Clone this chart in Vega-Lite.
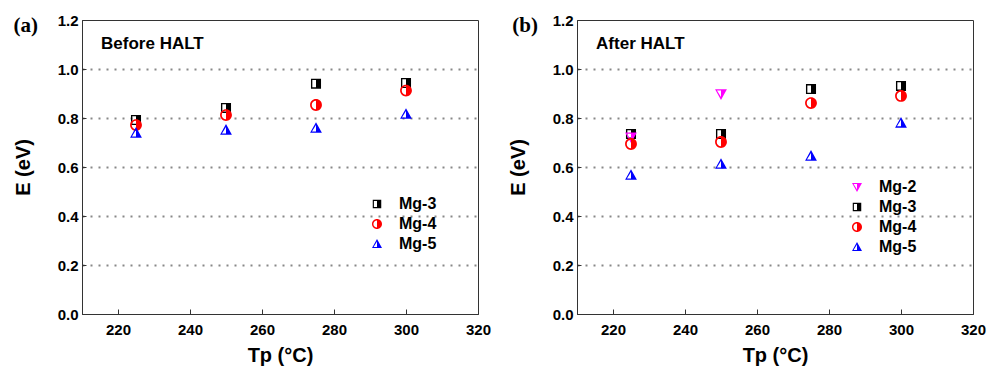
{
  "$schema": "https://vega.github.io/schema/vega-lite/v6.json",
  "background": "white",
  "padding": {"left": 12, "top": 12, "right": 5, "bottom": 5},
  "datasets": {
    "a": [
      {"T": 225, "E": 0.792, "s": "Mg-3"}, {"T": 250, "E": 0.841, "s": "Mg-3"}, {"T": 275, "E": 0.94, "s": "Mg-3"}, {"T": 300, "E": 0.943, "s": "Mg-3"},
      {"T": 225, "E": 0.771, "s": "Mg-4"}, {"T": 250, "E": 0.812, "s": "Mg-4"}, {"T": 275, "E": 0.853, "s": "Mg-4"}, {"T": 300, "E": 0.912, "s": "Mg-4"},
      {"T": 225, "E": 0.739, "s": "Mg-5"}, {"T": 250, "E": 0.751, "s": "Mg-5"}, {"T": 275, "E": 0.759, "s": "Mg-5"}, {"T": 300, "E": 0.816, "s": "Mg-5"}
    ],
    "b": [
      {"T": 225, "E": 0.735, "s": "Mg-3"}, {"T": 250, "E": 0.735, "s": "Mg-3"}, {"T": 275, "E": 0.918, "s": "Mg-3"}, {"T": 300, "E": 0.931, "s": "Mg-3"},
      {"T": 225, "E": 0.722, "s": "Mg-2"}, {"T": 250, "E": 0.898, "s": "Mg-2"},
      {"T": 225, "E": 0.694, "s": "Mg-4"}, {"T": 250, "E": 0.702, "s": "Mg-4"}, {"T": 275, "E": 0.861, "s": "Mg-4"}, {"T": 300, "E": 0.89, "s": "Mg-4"},
      {"T": 225, "E": 0.567, "s": "Mg-5"}, {"T": 250, "E": 0.612, "s": "Mg-5"}, {"T": 275, "E": 0.645, "s": "Mg-5"}, {"T": 300, "E": 0.78, "s": "Mg-5"}
    ]
  },
  "hconcat": [
    {
      "width": 396,
      "height": 294,
      "layer": [
        {
          "data": {"name": "a"},
          "mark": {"type": "point", "filled": true, "opacity": 1, "size": 140, "strokeWidth": 0},
          "encoding": {
            "x": {"field": "T", "type": "quantitative", "scale": {"domain": [210, 320], "nice": false, "zero": false},
              "axis": {"title": "Tp (°C)", "values": [220, 240, 260, 280, 300, 320], "tickSize": -5}},
            "y": {"field": "E", "type": "quantitative", "scale": {"domain": [0, 1.2], "nice": false, "zero": false},
              "axis": {"title": "E (eV)", "values": [0, 0.1, 0.2, 0.3, 0.4, 0.5, 0.6, 0.7, 0.8, 0.9, 1.0, 1.1, 1.2],
                "labelExpr": "abs(datum.value*5 - round(datum.value*5)) < 0.01 ? format(datum.value, '.1f') : ''",
                "tickSize": -4,
                "grid": true, "gridDash": [2, 6], "gridColor": "#888888", "gridWidth": 2,
                "gridOpacity": {"condition": {"test": "abs(datum.value*5 - round(datum.value*5)) < 0.01 && datum.value > 0.05 && datum.value < 1.15", "value": 1}, "value": 0}}},
            "color": {"field": "s", "type": "nominal", "scale": {"domain": ["Mg-3", "Mg-4", "Mg-5"], "range": ["#000000", "#ff0000", "#0000ff"]},
              "legend": {"orient": "none", "legendX": 287, "legendY": 176, "title": null}},
            "shape": {"field": "s", "type": "nominal", "scale": {"domain": ["Mg-3", "Mg-4", "Mg-5"], "range": [
              "M-0.85,-0.85H0.85V0.85H-0.85Z M-0.62,-0.62V0.62H0V-0.62Z",
              "M0,-1A1,1,0,1,1,0,1A1,1,0,1,1,0,-1Z M0,-0.72A0.72,0.72,0,0,0,0,0.72Z",
              "M0,-1L1,0.8L-1,0.8Z M0,-0.52L-0.68,0.58L0,0.58Z"]},
              "legend": {"orient": "none", "legendX": 287, "legendY": 176, "title": null}}
          }
        },
        {
          "data": {"values": [{}]},
          "mark": {"type": "text", "font": "Liberation Sans", "fontWeight": "bold", "fontSize": 17, "align": "left", "baseline": "middle"},
          "encoding": {"x": {"datum": 215.3}, "y": {"datum": 1.102}, "text": {"value": "Before HALT"}}
        },
        {
          "data": {"values": [{}]},
          "mark": {"type": "text", "font": "Liberation Serif", "fontWeight": "bold", "fontSize": 21, "align": "right", "baseline": "middle", "dx": -44, "dy": 6, "clip": false},
          "encoding": {"x": {"datum": 210}, "y": {"datum": 1.2}, "text": {"value": "(a)"}}
        }
      ]
    },
    {
      "width": 396,
      "height": 294,
      "layer": [
        {
          "data": {"name": "b"},
          "mark": {"type": "point", "filled": true, "opacity": 1, "size": 140, "strokeWidth": 0},
          "encoding": {
            "x": {"field": "T", "type": "quantitative", "scale": {"domain": [210, 320], "nice": false, "zero": false},
              "axis": {"title": "Tp (°C)", "values": [220, 240, 260, 280, 300, 320], "tickSize": -5}},
            "y": {"field": "E", "type": "quantitative", "scale": {"domain": [0, 1.2], "nice": false, "zero": false},
              "axis": {"title": "E (eV)", "values": [0, 0.1, 0.2, 0.3, 0.4, 0.5, 0.6, 0.7, 0.8, 0.9, 1.0, 1.1, 1.2],
                "labelExpr": "abs(datum.value*5 - round(datum.value*5)) < 0.01 ? format(datum.value, '.1f') : ''",
                "tickSize": -4,
                "grid": true, "gridDash": [2, 6], "gridColor": "#888888", "gridWidth": 2,
                "gridOpacity": {"condition": {"test": "abs(datum.value*5 - round(datum.value*5)) < 0.01 && datum.value > 0.05 && datum.value < 1.15", "value": 1}, "value": 0}}},
            "color": {"field": "s", "type": "nominal", "scale": {"domain": ["Mg-2", "Mg-3", "Mg-4", "Mg-5"], "range": ["#ff00ff", "#000000", "#ff0000", "#0000ff"]},
              "legend": {"orient": "none", "legendX": 272, "legendY": 159, "title": null}},
            "shape": {"field": "s", "type": "nominal", "scale": {"domain": ["Mg-2", "Mg-3", "Mg-4", "Mg-5"], "range": [
              "M-1,-0.8L1,-0.8L0,1Z M0,-0.58L-0.68,-0.58L0,0.52Z",
              "M-0.85,-0.85H0.85V0.85H-0.85Z M-0.62,-0.62V0.62H0V-0.62Z",
              "M0,-1A1,1,0,1,1,0,1A1,1,0,1,1,0,-1Z M0,-0.72A0.72,0.72,0,0,0,0,0.72Z",
              "M0,-1L1,0.8L-1,0.8Z M0,-0.52L-0.68,0.58L0,0.58Z"]},
              "legend": {"orient": "none", "legendX": 272, "legendY": 159, "title": null}}
          }
        },
        {
          "data": {"values": [{}]},
          "mark": {"type": "text", "font": "Liberation Sans", "fontWeight": "bold", "fontSize": 17, "align": "left", "baseline": "middle"},
          "encoding": {"x": {"datum": 215.3}, "y": {"datum": 1.102}, "text": {"value": "After HALT"}}
        },
        {
          "data": {"values": [{}]},
          "mark": {"type": "text", "font": "Liberation Serif", "fontWeight": "bold", "fontSize": 21, "align": "right", "baseline": "middle", "dx": -39, "dy": 6, "clip": false},
          "encoding": {"x": {"datum": 210}, "y": {"datum": 1.2}, "text": {"value": "(b)"}}
        }
      ]
    }
  ],
  "spacing": 99,
  "bounds": "flush",
  "resolve": {"scale": {"color": "independent", "shape": "independent"}},
  "config": {
    "view": {"stroke": "#333333", "strokeWidth": 1},
    "axis": {
      "domainColor": "#333333", "tickColor": "#333333",
      "labelFont": "Liberation Sans", "labelFontWeight": "bold", "labelFontSize": 15, "labelColor": "#000000",
      "labelFlush": false, "labelOverlap": false, "labelPadding": 8,
      "titleFont": "Liberation Sans", "titleFontWeight": "bold", "titleFontSize": 20, "titleColor": "#000000",
      "grid": false
    },
    "axisX": {"titlePadding": 8, "labelPadding": 13},
    "axisY": {"titlePadding": 24},
    "legend": {
      "labelFont": "Liberation Sans", "labelFontWeight": "bold", "labelFontSize": 16, "labelColor": "#000000",
      "symbolSize": 100, "rowPadding": 4, "labelOffset": 14, "symbolStrokeWidth": 0
    }
  }
}
